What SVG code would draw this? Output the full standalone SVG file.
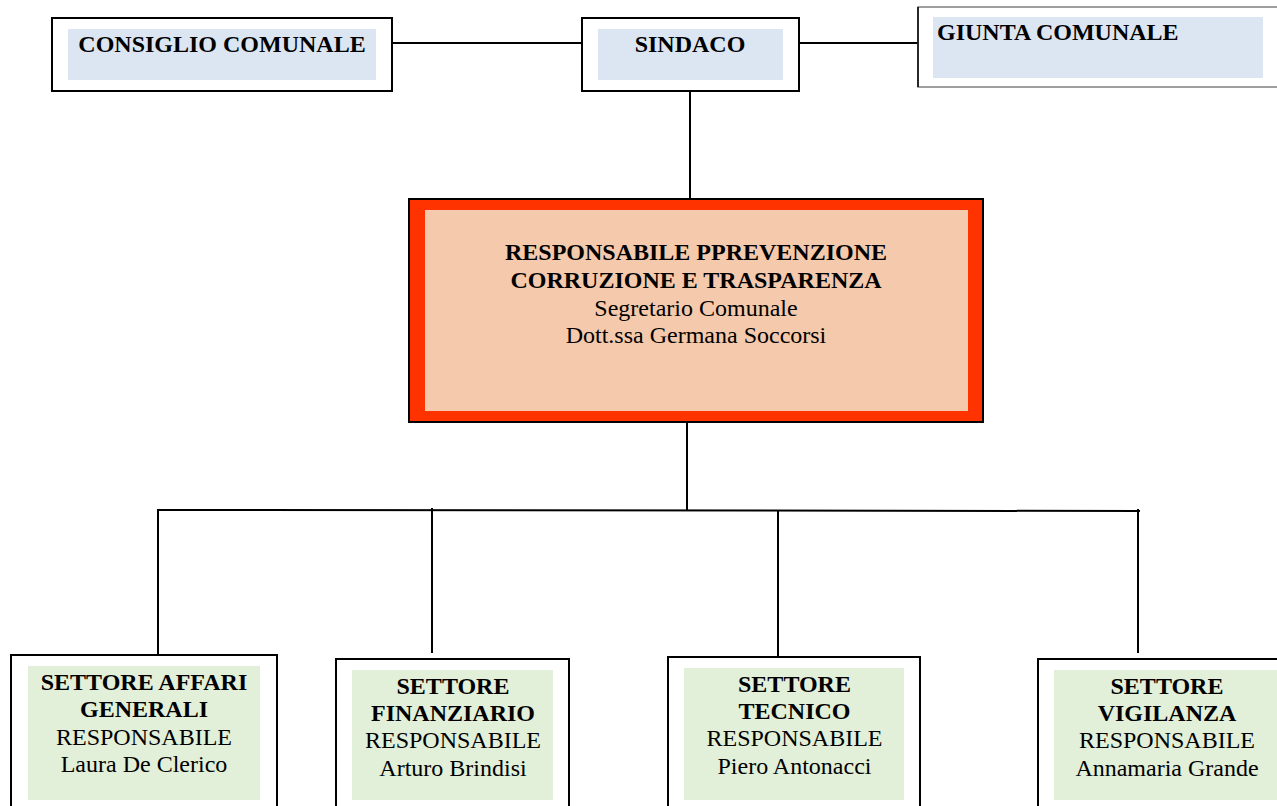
<svg xmlns="http://www.w3.org/2000/svg" width="1277" height="806" viewBox="0 0 1277 806">
<style>
.frame{fill:#fff;stroke:#000;stroke-width:2}
.blue{fill:#DCE6F2}
.green{fill:#E2EFD9}
.t{font-family:"Liberation Serif","Times New Roman",serif;font-size:24px;fill:#000}
.b{font-weight:bold}
.c{text-anchor:middle}
.ln{stroke:#000;stroke-width:2;fill:none}
</style>
<rect width="1277" height="806" fill="#fff"/>
<g id="connectors">
<line class="ln" x1="392" y1="43" x2="582" y2="43"/>
<line class="ln" x1="799" y1="43" x2="918" y2="43"/>
<line class="ln" x1="690" y1="91" x2="690" y2="200"/>
<line class="ln" x1="687" y1="422" x2="687" y2="510"/>
<line class="ln" x1="157" y1="510" x2="1140" y2="511"/>
<line class="ln" x1="158" y1="510" x2="158" y2="655"/>
<line class="ln" x1="432" y1="508" x2="432" y2="653"/>
<line class="ln" x1="778" y1="511" x2="778" y2="657"/>
<line class="ln" x1="1138" y1="509" x2="1138" y2="653"/>
</g>
<g id="consiglio">
<rect class="frame" x="52" y="18" width="340" height="73"/>
<rect class="blue" x="68" y="29" width="308" height="51"/>
<text class="t b c" x="222" y="52">CONSIGLIO COMUNALE</text>
</g>
<g id="sindaco">
<rect class="frame" x="582" y="18" width="217" height="73"/>
<rect class="blue" x="598" y="29" width="185" height="51"/>
<text class="t b c" x="690" y="52">SINDACO</text>
</g>
<g id="giunta">
<rect x="918" y="7" width="370" height="80" fill="#fff" stroke="#7f7f7f" stroke-width="1.5"/>
<line x1="918" y1="7" x2="918" y2="87" stroke="#000" stroke-width="1.5"/>
<rect class="blue" x="933" y="17" width="330" height="61"/>
<text class="t b" x="937" y="40">GIUNTA COMUNALE</text>
</g>
<g id="rpc">
<rect x="409" y="199" width="574" height="223" fill="#FF3300" stroke="#000" stroke-width="2"/>
<rect x="425" y="210" width="543" height="201" fill="#F5C9AB"/>
<text class="t b c" x="696" y="260">RESPONSABILE PPREVENZIONE</text>
<text class="t b c" x="696" y="288">CORRUZIONE E TRASPARENZA</text>
<text class="t c" x="696" y="316">Segretario Comunale</text>
<text class="t c" x="696" y="343">Dott.ssa Germana Soccorsi</text>
</g>
<g id="affari">
<rect class="frame" x="11" y="655" width="266" height="160"/>
<rect class="green" x="28" y="666" width="232" height="134"/>
<text class="t b c" x="144" y="690">SETTORE AFFARI</text>
<text class="t b c" x="144" y="717">GENERALI</text>
<text class="t c" x="144" y="745">RESPONSABILE</text>
<text class="t c" x="144" y="772">Laura De Clerico</text>
</g>
<g id="finanziario">
<rect class="frame" x="336" y="659" width="233" height="160"/>
<rect class="green" x="352" y="670" width="201" height="130"/>
<text class="t b c" x="453" y="694">SETTORE</text>
<text class="t b c" x="453" y="721">FINANZIARIO</text>
<text class="t c" x="453" y="748">RESPONSABILE</text>
<text class="t c" x="453" y="776">Arturo Brindisi</text>
</g>
<g id="tecnico">
<rect class="frame" x="668" y="657" width="252" height="160"/>
<rect class="green" x="684" y="668" width="220" height="132"/>
<text class="t b c" x="794.5" y="692">SETTORE</text>
<text class="t b c" x="794.5" y="719">TECNICO</text>
<text class="t c" x="794.5" y="746">RESPONSABILE</text>
<text class="t c" x="794.5" y="774">Piero Antonacci</text>
</g>
<g id="vigilanza">
<rect class="frame" x="1038" y="659" width="260" height="160"/>
<rect class="green" x="1054" y="670" width="223" height="130"/>
<text class="t b c" x="1167" y="694">SETTORE</text>
<text class="t b c" x="1167" y="721">VIGILANZA</text>
<text class="t c" x="1167" y="748">RESPONSABILE</text>
<text class="t c" x="1167" y="776">Annamaria Grande</text>
</g>
</svg>
